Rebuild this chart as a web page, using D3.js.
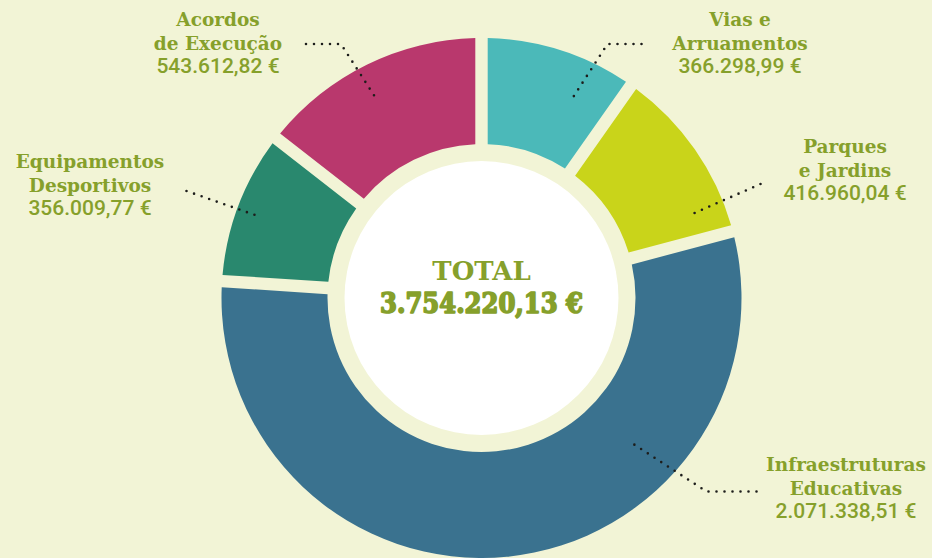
<!DOCTYPE html>
<html lang="pt">
<head>
<meta charset="UTF-8">
<script src="https://d3js.org/d3.v7.min.js"></script>
<title>Investimento</title>
<style>
  html, body { margin: 0; padding: 0; background: #f2f4d6; }
  svg { display: block; }
  .title { font-family: 'DejaVu Serif', serif; font-weight: bold; fill: #86a02b; }
  .value { font-family: Roboto, 'Liberation Sans', sans-serif; font-weight: 500; fill: #86a02b; }
</style>
</head>
<body>
<svg id="chart" width="932" height="558"></svg>
<script>
// data
const categories = ["Vias e Arruamentos", "Parques e Jardins", "Infraestruturas Educativas", "Equipamentos Desportivos", "Acordos de Execução"];
const labelLines = [["Vias e", "Arruamentos"], ["Parques", "e Jardins"], ["Infraestruturas", "Educativas"], ["Equipamentos", "Desportivos"], ["Acordos", "de Execução"]];
const values = [366298.99, 416960.04, 2071338.51, 356009.77, 543612.82];
const valueLabels = ["366.298,99 €", "416.960,04 €", "2.071.338,51 €", "356.009,77 €", "543.612,82 €"];
const totalLabel = "3.754.220,13 €";
const colors = ["#4bb9b9", "#c9d41a", "#3a728f", "#29886e", "#b9386d"];

// layout for the callouts (text block centre x / first baseline, leader path relative to donut centre)
const callouts = [
  {tx: 740, ty: 26, path: [[160, -254], [126, -254], [89.5, -197.5]]},
  {tx: 845, ty: 153, path: [[279, -114], [208.5, -83]]},
  {tx: 846, ty: 471, path: [[275, 193.5], [225, 193.5], [146.5, 142.5]]},
  {tx: 90, ty: 168, path: [[-295, -107], [-226.5, -83]]},
  {tx: 218, ty: 26, path: [[-175.5, -254], [-140.5, -254], [-104.5, -198]]}
];

const svg = d3.select("#chart");
const cx = 481.5, cy = 298;
const outerR = 260, innerR = 154, holeR = 137;

const g = svg.append("g").attr("transform", `translate(${cx},${cy})`);

const pie = d3.pie().sort(null).value(d => d)
  .startAngle(0).endAngle(2 * Math.PI);

const arc = d3.arc()
  .innerRadius(innerR)
  .outerRadius(outerR)
  .padAngle(12.4 / outerR)
  .padRadius(outerR);

g.selectAll("path.slice")
  .data(pie(values))
  .join("path")
  .attr("class", "slice")
  .attr("d", arc)
  .attr("fill", (d, i) => colors[i]);

// white centre
g.append("circle").attr("r", holeR).attr("fill", "#ffffff");

g.append("text")
  .attr("text-anchor", "middle")
  .attr("y", -18)
  .style("font-family", "'DejaVu Serif', serif")
  .style("font-weight", "bold")
  .style("font-size", "26px")
  .style("fill", "#86a02b")
  .text("TOTAL");

g.append("text")
  .attr("text-anchor", "middle")
  .attr("y", 15)
  .style("font-family", "'DejaVu Serif Condensed', 'DejaVu Serif', serif")
  .style("font-weight", "900")
  .style("font-stretch", "condensed")
  .style("font-size", "27px")
  .style("fill", "#86a02b")
  .style("stroke", "#86a02b")
  .style("stroke-width", "1.6px")
  .style("stroke-linejoin", "round")
  .text(totalLabel);

// leader lines
const line = d3.line();
g.selectAll("path.leader")
  .data(callouts)
  .join("path")
  .attr("class", "leader")
  .attr("d", d => line(d.path))
  .attr("fill", "none")
  .attr("stroke", "#1d1d1b")
  .attr("stroke-width", 2.6)
  .attr("stroke-linecap", "round")
  .attr("stroke-dasharray", "0 8");

// labels
const labels = svg.selectAll("g.label")
  .data(categories)
  .join("g")
  .attr("class", "label")
  .attr("transform", (d, i) => `translate(${callouts[i].tx},${callouts[i].ty})`);

labels.each(function(d, i) {
  const el = d3.select(this);
  labelLines[i].forEach((t, j) => {
    el.append("text")
      .attr("class", "title")
      .attr("text-anchor", "middle")
      .attr("y", j * 23.5)
      .style("font-size", "18.5px")
      .text(t);
  });
  el.append("text")
    .attr("class", "value")
    .attr("text-anchor", "middle")
    .attr("y", 2 * 23.5)
    .style("font-size", "21px")
    .text(valueLabels[i]);
});
</script>
</body>
</html>
